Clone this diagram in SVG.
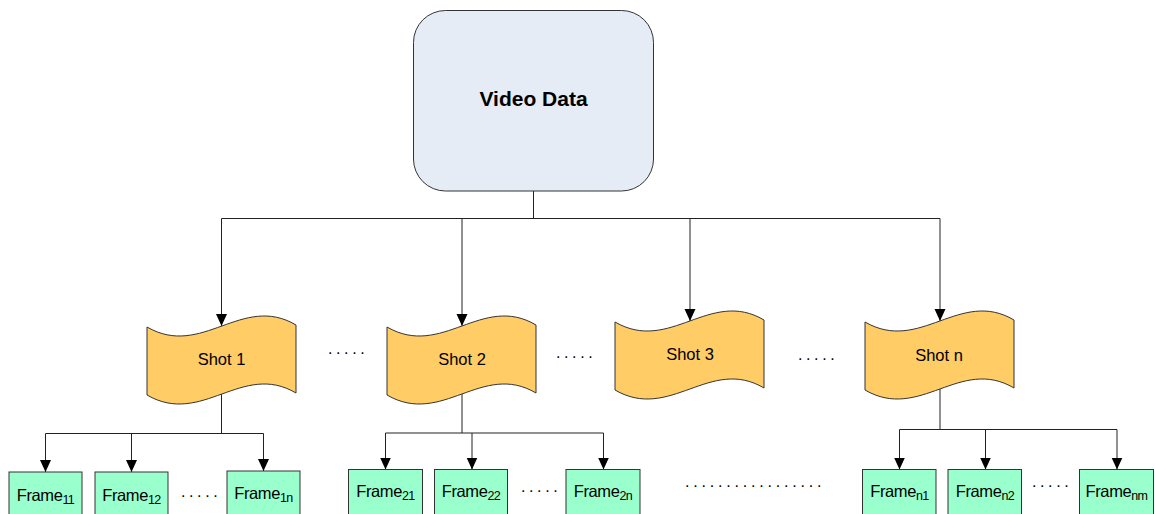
<svg xmlns="http://www.w3.org/2000/svg" width="1155" height="514" viewBox="0 0 1155 514">
<style>
.ln{fill:none;stroke:#222;stroke-width:1}
.arr{marker-end:url(#ah)}
.shot{fill:#FFCC66;stroke:#333;stroke-width:1}
.frm{fill:#99FFCC;stroke:#333;stroke-width:1}
.t{font-family:"Liberation Sans",Arial,sans-serif;fill:#000;text-anchor:middle}
.st{font-size:16.5px}
.ft{font-size:16.5px;letter-spacing:-0.4px}
.sub{font-size:12.5px;letter-spacing:-0.6px}
.dots{font-family:"Liberation Sans",Arial,sans-serif;font-size:16px;letter-spacing:3.6px;fill:#000}
</style>
<defs>
<marker id="ah" markerUnits="userSpaceOnUse" markerWidth="12" markerHeight="12" viewBox="0 0 12 12" refX="12" refY="6" orient="auto">
<path d="M0,0.5 L12,6 L0,11.5 Z" fill="#000"/>
</marker>
<path id="tape" d="M0,12 C55,44 95,-22 149,10 L149,78 C95,46 55,112 0,80 Z"/>
</defs>
<rect width="1155" height="514" fill="#fff"/>

<g id="connectors">
<path class="ln" d="M533.5,191 V218.5 M221.5,218.5 H940"/>
<path class="ln arr" d="M221.5,218.5 V326"/>
<path class="ln arr" d="M462,218.5 V326"/>
<path class="ln arr" d="M690,218.5 V321"/>
<path class="ln arr" d="M940,218.5 V321"/>
<path class="ln" d="M221.5,394 V433.5 M45.5,433.5 H263.5"/>
<path class="ln arr" d="M45.5,433.5 V472"/>
<path class="ln arr" d="M131.5,433.5 V472"/>
<path class="ln arr" d="M263.5,433.5 V471"/>
<path class="ln" d="M462,394 V433 M385.5,433 H603.5"/>
<path class="ln arr" d="M385.5,433 V469.5"/>
<path class="ln arr" d="M472,433 V469.5"/>
<path class="ln arr" d="M603.5,433 V469.5"/>
<path class="ln" d="M940,389 V429.5 M899.5,429.5 H1117"/>
<path class="ln arr" d="M899.5,429.5 V469.5"/>
<path class="ln arr" d="M985.5,429.5 V469.5"/>
<path class="ln arr" d="M1117,429.5 V469.5"/>
</g>

<g id="video-data">
<rect x="413.5" y="10.5" width="240" height="180.5" rx="32" ry="32" fill="#E6ECF5" stroke="#333" stroke-width="1"/>
<text class="t" x="533.5" y="106" font-size="21" font-weight="bold">Video Data</text>
</g>

<g id="shot-1">
<use href="#tape" class="shot" transform="translate(147,315)"/>
<text class="t st" x="221.5" y="365">Shot 1</text>
</g>
<g id="shot-2">
<use href="#tape" class="shot" transform="translate(387,315)"/>
<text class="t st" x="462" y="365">Shot 2</text>
</g>
<g id="shot-3">
<use href="#tape" class="shot" transform="translate(615,310)"/>
<text class="t st" x="690" y="360">Shot 3</text>
</g>
<g id="shot-n">
<use href="#tape" class="shot" transform="translate(865,310)"/>
<text class="t st" x="939" y="361">Shot n</text>
</g>

<g id="frame-11">
<rect class="frm" x="9" y="472" width="73" height="50"/>
<text class="t ft" x="45.5" y="501">Frame<tspan class="sub" dy="3">11</tspan></text>
</g>
<g id="frame-12">
<rect class="frm" x="95" y="472" width="73" height="50"/>
<text class="t ft" x="131.5" y="501">Frame<tspan class="sub" dy="3">12</tspan></text>
</g>
<g id="frame-1n">
<rect class="frm" x="227" y="471" width="73" height="50"/>
<text class="t ft" x="263.5" y="499">Frame<tspan class="sub" dy="3">1n</tspan></text>
</g>
<g id="frame-21">
<rect class="frm" x="348.5" y="469.5" width="74" height="50"/>
<text class="t ft" x="385.5" y="497">Frame<tspan class="sub" dy="3">21</tspan></text>
</g>
<g id="frame-22">
<rect class="frm" x="434.5" y="469.5" width="73" height="50"/>
<text class="t ft" x="471" y="497">Frame<tspan class="sub" dy="3">22</tspan></text>
</g>
<g id="frame-2n">
<rect class="frm" x="566" y="469.5" width="74" height="50"/>
<text class="t ft" x="603" y="497">Frame<tspan class="sub" dy="3">2n</tspan></text>
</g>
<g id="frame-n1">
<rect class="frm" x="862.5" y="469.5" width="73.5" height="50"/>
<text class="t ft" x="899.5" y="497">Frame<tspan class="sub" dy="3">n1</tspan></text>
</g>
<g id="frame-n2">
<rect class="frm" x="948" y="469.5" width="73.5" height="50"/>
<text class="t ft" x="985" y="497">Frame<tspan class="sub" dy="3">n2</tspan></text>
</g>
<g id="frame-nm">
<rect class="frm" x="1079.5" y="469.5" width="74" height="50"/>
<text class="t ft" x="1116.5" y="497">Frame<tspan class="sub" dy="3">nm</tspan></text>
</g>

<g id="ellipses">
<text class="dots" x="328" y="354">.....</text>
<text class="dots" x="556" y="358">.....</text>
<text class="dots" x="798" y="360">.....</text>
<text class="dots" x="181" y="497">.....</text>
<text class="dots" x="521" y="492">.....</text>
<text class="dots" x="1032" y="487">.....</text>
<text class="dots" x="685" y="487" style="letter-spacing:3.8px">.................</text>
</g>
</svg>
